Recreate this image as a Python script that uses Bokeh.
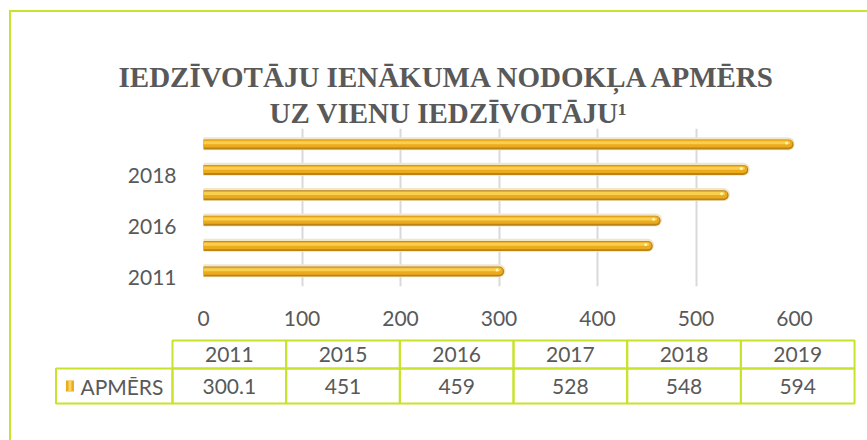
from bokeh.plotting import figure
from bokeh.models import Range1d, FixedTicker, Title, ColumnDataSource
from bokeh.transform import dodge
from bokeh.embed import file_html
from bokeh.resources import INLINE
from bokeh.core.properties import value

# ---- data ----
title_line1 = "IEDZĪVOTĀJU IENĀKUMA NODOKĻA APMĒRS"
title_line2 = "UZ VIENU IEDZĪVOTĀJU¹"
years = ["2011", "2015", "2016", "2017", "2018", "2019"]
values = [300.1, 451, 459, 528, 548, 594]
series_name = "APMĒRS"
x_ticks = [0, 100, 200, 300, 400, 500, 600]

# ---- style ----
TEXT = "#595959"
LIME = "#C9E22B"
FONT = "Lato"
FSIZE = "21px"
W, H1, H2 = 867, 338, 102

idx = list(range(len(years)))
src = ColumnDataSource(dict(y=idx, zero=[0] * len(idx), v=values, year=years))

p = figure(width=W, height=H1, output_backend="svg", toolbar_location=None,
           x_range=Range1d(0, 600), y_range=Range1d(-0.354, 5.866),
           min_border_left=203, min_border_right=73, min_border_top=128,
           min_border_bottom=52, border_fill_color=None, outline_line_color=None)

t2 = Title(text=title_line2, align="left", offset=66, standoff=0,
           text_font="Liberation Serif", text_font_style="bold",
           text_font_size="29px", text_color=TEXT)
t1 = Title(text=title_line1, align="left", offset=-85, standoff=4,
           text_font="Liberation Serif", text_font_style="bold",
           text_font_size="29px", text_color=TEXT)
p.add_layout(t2, "above")
p.add_layout(t1, "above")

# bars (cylinders)
D = 0.236
p.segment(x0="zero", y0=dodge("y", D + 0.03), x1="v", y1=dodge("y", D + 0.03), source=src,
          line_width=13, line_color="#EFE6CC", line_cap="round")
p.segment(x0="zero", y0=dodge("y", D), x1="v", y1=dodge("y", D), source=src,
          line_width=10, line_color="#BC8212", line_cap="round")
p.segment(x0="zero", y0=dodge("y", D + 0.025), x1="v", y1=dodge("y", D + 0.025), source=src,
          line_width=7.5, line_color="#ECAA1E", line_cap="round")
p.segment(x0="zero", y0=dodge("y", D + 0.07), x1="v", y1=dodge("y", D + 0.07), source=src,
          line_width=3, line_color="#F9CF50", line_cap="round")
p.scatter(x=dodge("v", -2), y=dodge("y", D + 0.06), source=src, size=3,
          fill_color="#FFF6A8", line_color=None)

p.xgrid.ticker = FixedTicker(ticks=x_ticks)
p.xgrid.grid_line_color = "#D9D9D9"
p.xgrid.grid_line_width = 2
p.ygrid.grid_line_color = None

p.xaxis.ticker = FixedTicker(ticks=x_ticks)
p.yaxis.ticker = FixedTicker(ticks=idx[::2])
p.yaxis.major_label_overrides = {i: years[i] for i in idx[::2]}
for ax in (p.xaxis, p.yaxis):
    ax.axis_line_color = None
    ax.major_tick_line_color = None
    ax.minor_tick_line_color = None
    ax.major_label_text_font = FONT
    ax.major_label_text_font_size = FSIZE
    ax.major_label_text_color = TEXT
p.xaxis.major_label_standoff = 18
p.yaxis.major_label_standoff = 21
p.styles = {"box-shadow": "inset 9px 10px 0 0 #ffffff, inset 11px 12px 0 0 " + LIME}

# ---- data table ----
q = figure(width=W, height=H2, output_backend="svg", toolbar_location=None,
           x_range=Range1d(-1.513, 6.114), y_range=Range1d(102, 0),
           min_border=0, x_axis_location=None, y_axis_location=None,
           border_fill_color=None, background_fill_color=None, outline_line_color=None)
q.grid.visible = False

tsrc = ColumnDataSource(dict(
    left=idx, right=[i + 1 for i in idx], xc=[i + 0.5 for i in idx],
    year=years, label=["{:g}".format(v) for v in values]))
q.quad(left="left", right="right", top=2, bottom=30, source=tsrc,
       fill_color=None, line_color=LIME, line_width=2)
q.quad(left="left", right="right", top=30, bottom=65, source=tsrc,
       fill_color=None, line_color=LIME, line_width=2)
q.quad(left=[-1.025], right=[0], top=[30], bottom=[65],
       fill_color=None, line_color=LIME, line_width=2)
q.text(x="xc", y=16, text="year", source=tsrc, text_align="center",
       text_baseline="middle", text_font=value(FONT), text_font_size=FSIZE,
       text_color=TEXT)
q.text(x="xc", y=47.5, text="label", source=tsrc, text_align="center",
       text_baseline="middle", text_font=value(FONT), text_font_size=FSIZE,
       text_color=TEXT)
q.rect(x=[-0.902], y=[47.5], width=8, height=11, width_units="screen",
       height_units="screen", fill_color="#EBAA20", line_color=None)
q.rect(x=[-0.902], y=[47.5], width=3, height=11, width_units="screen",
       height_units="screen", fill_color="#F9D660", line_color=None)
q.text(x=[-0.81], y=[47.5], text=[series_name], text_align="left",
       text_baseline="middle", text_font=value(FONT), text_font_size=FSIZE,
       text_color=TEXT)
q.styles = {"box-shadow": "inset 9px 0 0 0 #ffffff, inset 11px 0 0 0 " + LIME}

open("out.html", "w").write(file_html([p, q], INLINE))
